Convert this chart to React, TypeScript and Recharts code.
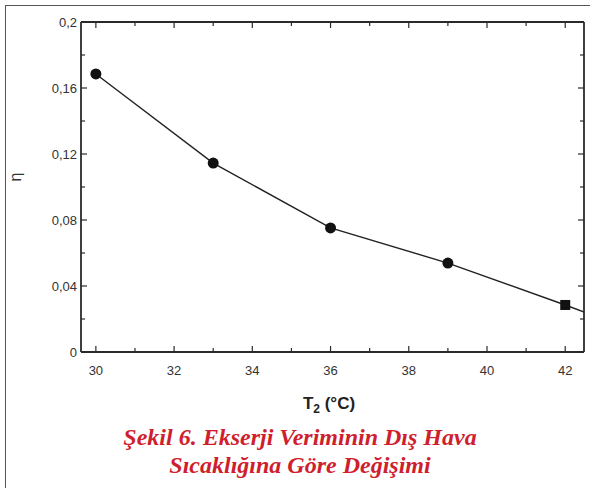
import { LineChart, Line, XAxis, YAxis } from "recharts"

// T2 (°C) values and exergy efficiency
const temps = [30, 33, 36, 39, 42, 43]
const eta = [0.1685, 0.1145, 0.0752, 0.0539, 0.0285, 0.0195]

const xTicks = [30, 31, 32, 33, 34, 35, 36, 37, 38, 39, 40, 41, 42]
const xLabels = [30, 32, 34, 36, 38, 40, 42]
const yTicks = [0, 0.02, 0.04, 0.06, 0.08, 0.1, 0.12, 0.14, 0.16, 0.18, 0.2]
const yLabels = [0, 0.04, 0.08, 0.12, 0.16, 0.2]

const captionLines = ["Şekil 6. Ekserji Veriminin Dış Hava", "Sıcaklığına Göre Değişimi"]

const data = temps.map((t, i) => ({ t, eta: eta[i] }))

const axisColor = "#2a2a2a"
const labelFont = "'Liberation Sans', Arial, sans-serif"

const isLabel = (list: number[], v: number) => list.some(l => Math.abs(l - v) < 1e-9)
const fmt = (v: number) => (v === 0 ? "0" : String(v).replace(".", ","))

function BottomTick(props: any) {
  const { x, y, payload } = props
  const major = isLabel(xLabels, payload.value)
  return (
    <g>
      <line x1={x} x2={x} y1={y} y2={y - (major ? 6 : 4)} stroke={axisColor} strokeWidth={1.2} />
      {major && (
        <text x={x} y={y + 23} textAnchor="middle" fontSize={13} fill="#333" fontFamily={labelFont}>
          {payload.value}
        </text>
      )}
    </g>
  )
}

function TopTick(props: any) {
  const { x, y, payload } = props
  const major = isLabel(xLabels, payload.value)
  return <line x1={x} x2={x} y1={y} y2={y + (major ? 6 : 4)} stroke={axisColor} strokeWidth={1.2} />
}

function LeftTick(props: any) {
  const { x, y, payload } = props
  const major = isLabel(yLabels, payload.value)
  return (
    <g>
      <line x1={x} x2={x + (major ? 6 : 4)} y1={y} y2={y} stroke={axisColor} strokeWidth={1.2} />
      {major && (
        <text x={x - 4} y={y + 5} textAnchor="end" fontSize={13} fill="#333" fontFamily={labelFont}>
          {fmt(payload.value)}
        </text>
      )}
    </g>
  )
}

function RightTick(props: any) {
  const { x, y, payload } = props
  const major = isLabel(yLabels, payload.value)
  return <line x1={x} x2={x - (major ? 6 : 4)} y1={y} y2={y} stroke={axisColor} strokeWidth={1.2} />
}

function Marker(props: any) {
  const { cx, cy, index } = props
  if (index > 4) return <g key={index} />
  if (index === 4) {
    return <rect key={index} x={cx - 5} y={cy - 5} width={10} height={10} fill="#111" />
  }
  return <circle key={index} cx={cx} cy={cy} r={5.5} fill="#111" />
}

export default function App() {
  return (
    <div style={{ position: "absolute", left: 0, top: 0, width: 590, height: 488, background: "#fff" }}>
      <div
        style={{
          position: "absolute",
          left: 5,
          top: 5,
          width: 590,
          height: 488,
          borderLeft: "1.5px solid #555",
          borderTop: "1.5px solid #555",
        }}
      />
      <div style={{ position: "absolute", left: 0, top: 0 }}>
        <LineChart width={590} height={488} data={data} margin={{ top: 21, right: 5, bottom: 106, left: 31 }}>
          <XAxis
            xAxisId="bottom"
            dataKey="t"
            type="number"
            domain={[29.62, 42.48]}
            allowDataOverflow
            ticks={xTicks}
            interval={0}
            height={30}
            tickSize={0}
            tickMargin={0}
            stroke={axisColor}
            strokeWidth={1.8}
            tick={<BottomTick />}
          />
          <XAxis
            xAxisId="top"
            orientation="top"
            dataKey="t"
            type="number"
            domain={[29.62, 42.48]}
            allowDataOverflow
            ticks={xTicks}
            interval={0}
            height={1}
            tickSize={0}
            tickMargin={0}
            stroke={axisColor}
            strokeWidth={1.8}
            tick={<TopTick />}
          />
          <YAxis
            yAxisId="left"
            type="number"
            domain={[0, 0.2]}
            allowDataOverflow
            ticks={yTicks}
            interval={0}
            width={50}
            tickSize={0}
            tickMargin={0}
            stroke={axisColor}
            strokeWidth={1.8}
            tick={<LeftTick />}
          />
          <YAxis
            yAxisId="right"
            orientation="right"
            type="number"
            domain={[0, 0.2]}
            allowDataOverflow
            ticks={yTicks}
            interval={0}
            width={1}
            tickSize={0}
            tickMargin={0}
            stroke={axisColor}
            strokeWidth={1.8}
            tick={<RightTick />}
          />
          <Line
            xAxisId="top"
            yAxisId="right"
            dataKey="eta"
            type="linear"
            stroke="none"
            dot={false}
            activeDot={false}
            isAnimationActive={false}
          />
          <Line
            xAxisId="bottom"
            yAxisId="left"
            dataKey="eta"
            type="linear"
            stroke="#222"
            strokeWidth={1.4}
            dot={<Marker />}
            activeDot={false}
            isAnimationActive={false}
          />
        </LineChart>
      </div>
      <svg width={590} height={488} style={{ position: "absolute", left: 0, top: 0, pointerEvents: "none" }}>
        <text
          x={17}
          y={177}
          transform="rotate(-90 17 177)"
          textAnchor="middle"
          dominantBaseline="middle"
          fontSize={16}
          fill="#333"
          fontFamily={labelFont}
        >
          η
        </text>
        <text x={329} y={409} textAnchor="middle" fontSize={17} fontWeight="bold" fill="#222" fontFamily={labelFont}>
          T<tspan fontSize={12} dy={4}>2</tspan>
          <tspan dy={-4}> (°C)</tspan>
        </text>
        {captionLines.map((line, i) => (
          <text
            key={i}
            x={300}
            y={445 + i * 28}
            textAnchor="middle"
            fontSize={24}
            fontWeight="bold"
            fontStyle="italic"
            fill="#cf1f2e"
            fontFamily="'Liberation Serif', 'Times New Roman', serif"
          >
            {line}
          </text>
        ))}
      </svg>
    </div>
  )
}
